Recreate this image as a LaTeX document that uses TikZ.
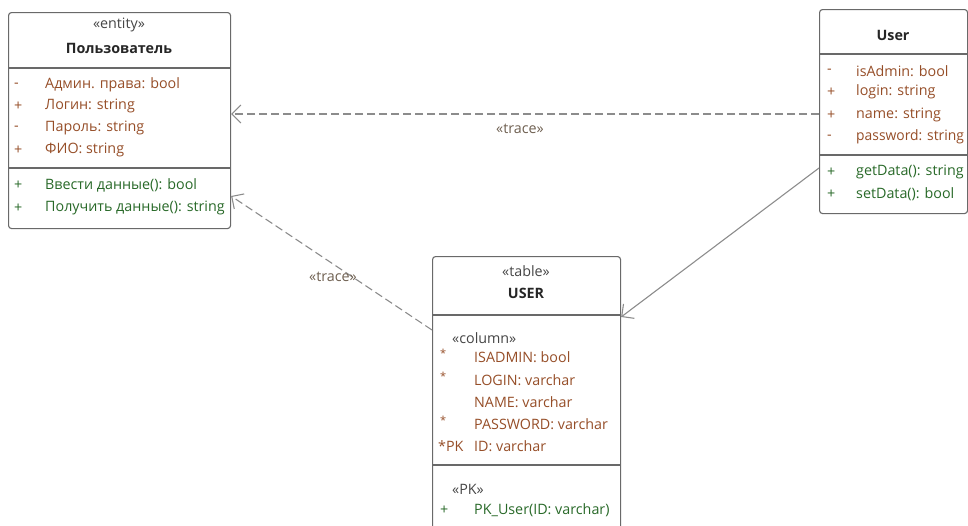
\documentclass[tikz,border=0pt]{standalone}
\usepackage{fontspec}
\setmainfont{Open Sans}
\usetikzlibrary{arrows.meta,calc}
\definecolor{attrc}{RGB}{150,78,40}
\definecolor{opc}{RGB}{40,105,40}
\definecolor{stc}{RGB}{70,70,70}
\definecolor{linec}{RGB}{140,140,140}
\definecolor{boxc}{RGB}{105,105,105}
\definecolor{lblc}{RGB}{110,95,80}
\tikzset{
  box/.style={draw=boxc, line width=1.1pt, rounded corners=3pt, fill=white, anchor=north west, inner sep=0pt},
  sepline/.style={draw=boxc, line width=1.1pt},
  txt/.style={inner sep=0pt, anchor=west, font=\fontsize{14.3}{16}\selectfont},
  stereo/.style={inner sep=0pt, font=\fontsize{14.3}{16}\selectfont, text=stc},
  title/.style={inner sep=0pt, font=\fontsize{14.3}{16}\selectfont\bfseries, text=black!85},
  attr/.style={txt, text=attrc},
  oper/.style={txt, text=opc},
  star/.style={inner sep=0pt, anchor=west, font=\fontsize{11}{12}\selectfont, text=attrc},
  conn/.style={draw=linec, line width=1.1pt, -{Straight Barb[length=9pt,width=18pt,line width=1.1pt]}},
  tracec/.style={conn, dash pattern=on 8pt off 4pt},
  lbl/.style={inner sep=0pt, font=\fontsize{14.3}{16}\selectfont, text=lblc},
}
\begin{document}
\begin{tikzpicture}[x=1pt,y=-1pt]
\useasboundingbox (0,0) rectangle (968,525);
\clip (0,0) rectangle (968,525);
% Box 1
\node[box, minimum width=222pt, minimum height=216pt] (ent) at (8,12) {};
\draw[sepline] (8,68) -- (230,68);
\draw[sepline] (8,168) -- (230,168);
\node[stereo] (ent-st) at (119,25) {«entity»};
\node[title] (ent-t) at (119,48) {Пользователь};
\node[attr] (e-s1) at (14,85) {-};
\node[attr] (e-a1) at (45,85) {Админ. права: bool};
\node[attr] (e-s2) at (14,106) {+};
\node[attr] (e-a2) at (45,106) {Логин: string};
\node[attr] (e-s3) at (14,128) {-};
\node[attr] (e-a3) at (45,128) {Пароль: string};
\node[attr] (e-s4) at (14,150) {+};
\node[attr] (e-a4) at (45,150) {ФИО: string};
\node[oper] (e-s5) at (14,185) {+};
\node[oper] (e-o1) at (45,185) {Ввести данные(): bool};
\node[oper] (e-s6) at (14,208) {+};
\node[oper] (e-o2) at (45,208) {Получить данные(): string};
% Box 2
\node[box, minimum width=148pt, minimum height=204pt] (usr) at (819,9) {};
\draw[sepline] (819,54) -- (967,54);
\draw[sepline] (819,155) -- (967,155);
\node[title] (usr-t) at (893,35) {User};
\node[attr] (u-s1) at (827,71) {-};
\node[attr] (u-a1) at (856,71) {isAdmin: bool};
\node[attr] (u-s2) at (827,92) {+};
\node[attr] (u-a2) at (856,92) {login: string};
\node[attr] (u-s3) at (827,115) {+};
\node[attr] (u-a3) at (856,115) {name: string};
\node[attr] (u-s4) at (827,137) {-};
\node[attr, xscale=0.97] (u-a4) at (856,137) {password: string};
\node[oper] (u-s5) at (827,172) {+};
\node[oper] (u-o1) at (856,172) {getData(): string};
\node[oper] (u-s6) at (827,194) {+};
\node[oper] (u-o2) at (856,194) {setData(): bool};
% Box 3
\node[box, minimum width=188pt, minimum height=290pt] (tbl) at (432,256) {};
\draw[sepline] (432,315) -- (620,315);
\draw[sepline] (432,465) -- (620,465);
\node[stereo] (tbl-st) at (526,271) {«table»};
\node[title] (tbl-t) at (526,293) {USER};
\node[stereo, anchor=west] (t-col) at (452,338) {«column»};
\node[star] (t-s1) at (440,353) {*};
\node[attr] (t-a1) at (474,357) {ISADMIN: bool};
\node[star] (t-s2) at (440,376) {*};
\node[attr] (t-a2) at (474,380) {LOGIN: varchar};
\node[attr] (t-a3) at (474,402) {NAME: varchar};
\node[star] (t-s4) at (440,420) {*};
\node[attr] (t-a4) at (474,424) {PASSWORD: varchar};
\node[attr] (t-s5) at (438,446) {*PK};
\node[attr] (t-a5) at (474,446) {ID: varchar};
\node[stereo, anchor=west] (t-pk) at (452,489) {«PK»};
\node[oper] (t-s6) at (440,510) {+};
\node[oper] (t-o1) at (474,510) {PK\_User(ID: varchar)};
% Connectors
\coordinate (c1s) at (usr.west |- 0,114);
\coordinate (c1e) at (ent.east |- 0,114);
\draw[tracec] (c1s) -- (c1e);
\node[lbl] (l1) at (520,129) {«trace»};
\coordinate (c2s) at (tbl.west |- 0,330);
\coordinate (c2e) at (ent.east |- 0,196);
\draw[tracec] (c2s) -- (c2e);
\node[lbl] (l2) at (333,277) {«trace»};
\coordinate (c3s) at (usr.west |- 0,168);
\coordinate (c3e) at (tbl.east |- 0,317);
\draw[conn] (c3s) -- (c3e);
\end{tikzpicture}
\end{document}
